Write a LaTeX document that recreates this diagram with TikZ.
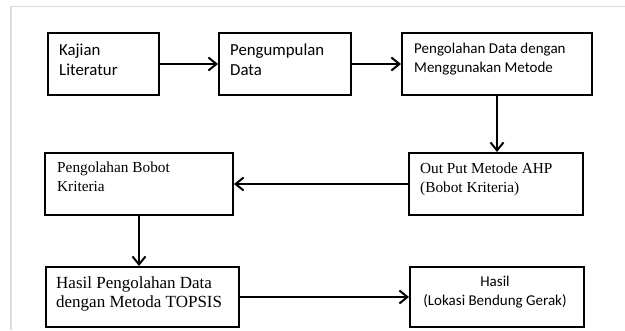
\documentclass[tikz,border=0pt]{standalone}
\usepackage{fontspec}
\setmainfont{Liberation Serif}
\newfontfamily\carlito{Carlito}
\usetikzlibrary{arrows.meta}
\definecolor{framec}{HTML}{D6DCE6}
\tikzset{
  box/.style={draw, line width=2pt, inner sep=0pt, rectangle},
  arr/.style={line width=2pt, -{Straight Barb[length=8pt,width=13pt]}},
  txt/.style={anchor=north west, inner sep=0pt, align=left},
  sansA/.style={font={\carlito\fontsize{16.8}{20}\selectfont}},
  sansB/.style={font={\carlito\fontsize{15}{19}\selectfont}},
  serifA/.style={font={\fontsize{15.3}{19.5}\selectfont}},
  serifB/.style={font={\fontsize{17}{19}\selectfont}}
}
\begin{document}
\begin{tikzpicture}[x=1pt,y=-1pt]
\useasboundingbox (0,0) rectangle (625,330);
\draw[framec, line width=1.5pt] (11,330) -- (11,6.5) -- (625,6.5);
% boxes
\node[box, minimum width=111pt, minimum height=62pt] (b1) at (103.5,64) {};
\node[box, minimum width=132pt, minimum height=62pt] (b2) at (285,64) {};
\node[box, minimum width=190pt, minimum height=62pt] (b3) at (497,64) {};
\node[box, minimum width=174pt, minimum height=62pt] (b4) at (496,184) {};
\node[box, minimum width=188pt, minimum height=62pt] (b5) at (139,184) {};
\node[box, minimum width=193pt, minimum height=60pt] (b6) at (142.5,297) {};
\node[box, minimum width=174pt, minimum height=60pt] (b7) at (497,297) {};
% texts
\node[txt, sansA] (t1) at (59,41) {\strut Kajian\\Literatur};
\node[txt, sansA] (t2) at (230,41) {\strut Pengumpulan\\Data};
\node[txt, sansB] (t3) at (414,39.7) {\strut Pengolahan Data dengan\\Menggunakan Metode};
\node[txt, serifA] (t4) at (420,159.35) {\strut Out Put Metode AHP\\(Bobot Kriteria)};
\node[txt, serifA] (t5) at (57,158.35) {\strut Pengolahan Bobot\\Kriteria};
\node[txt, serifB] (t6) at (56,274.7) {\strut Hasil Pengolahan Data\\dengan Metoda TOPSIS};
\node[anchor=north, inner sep=0pt, align=center, sansB] (t7) at (495,272.7) {\strut Hasil\\(Lokasi Bendung Gerak)};
% connectors
\draw[arr] (b1) -- (b2);
\draw[arr] (b2) -- (b3);
\draw[arr] (b3.south) -- (b3.south |- b4.north);
\draw[arr] (b4.west) -- (b4.west -| b5.east);
\draw[arr] (b5.south) -- (b5.south |- b6.north);
\draw[arr] (b6.east) -- (b6.east -| b7.west);
\end{tikzpicture}
\end{document}
